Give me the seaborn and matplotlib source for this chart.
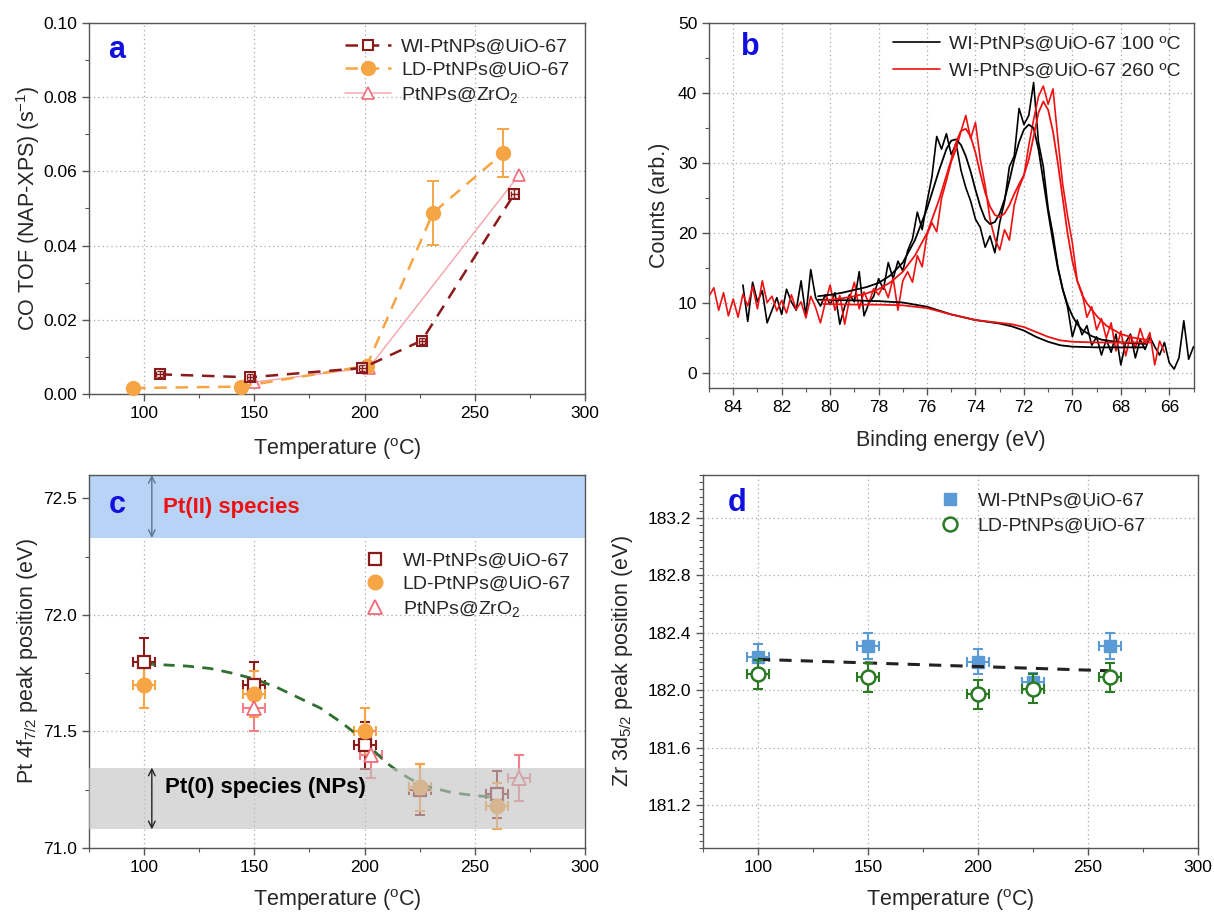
import numpy as np
import matplotlib
matplotlib.use("Agg")
import matplotlib.pyplot as plt
import seaborn as sns
from matplotlib.ticker import MultipleLocator, FormatStrFormatter

# ---------------- panel a : CO TOF ----------------
a_wi_T = [107, 148, 199, 226, 268]
a_wi_tof = [0.0053, 0.0045, 0.0070, 0.0144, 0.0540]
a_wi_err = [0.0008, 0.0008, 0.0008, 0.0008, 0.0012]
a_ld_T = [95, 144, 201, 231, 263]
a_ld_tof = [0.0016, 0.0020, 0.0076, 0.0488, 0.0650]
a_ld_err = [0.0, 0.0, 0.0, 0.0086, 0.0065]
a_zr_T = [150, 202, 270]
a_zr_tof = [0.0032, 0.0071, 0.0590]

# ---------------- panel b : Pt 4f spectra ----------------
b_black_counts = [
    12.6, 7.4, 13.0, 10.2, 11.8, 7.2, 9.0, 10.8, 8.4, 12.0,
    10.2, 9.0, 13.2, 8.2, 14.8, 10.8, 9.6, 11.2, 9.8, 11.5,
    7.0, 9.5, 11.2, 10.2, 14.5, 8.2, 10.0, 11.0, 13.5,
    12.0, 15.8, 13.5, 16.0, 14.6, 17.5, 19.2, 23.0, 20.5, 24.5,
    28.0, 33.8, 32.0, 34.2, 31.2, 32.8, 29.0, 26.5, 24.6, 22.0,
    20.8, 18.0, 19.6, 17.2, 21.5, 24.5, 29.5, 31.0, 37.8, 35.5,
    36.8, 41.5, 33.0, 29.5, 23.5, 19.8, 15.2, 12.0, 9.5, 5.2,
    7.6, 5.5, 6.8, 4.0, 5.2, 2.6, 4.8, 3.0, 5.6, 1.2,
    4.4, 5.6, 2.2, 4.8, 3.4, 5.2, 3.8, 2.6, 4.4, 1.5,
    0.6, 2.2, 7.5, 2.0, 3.8]
b_black_be = np.linspace(83.6, 65.0, len(b_black_counts))

b_red_counts = [
    11.0, 12.2, 9.0, 11.5, 8.2, 10.6, 8.0, 11.3, 9.6, 12.4,
    9.2, 13.2, 10.1, 11.0, 8.9, 10.4, 8.6, 11.2, 9.1, 10.2,
    7.9, 11.0, 9.4, 7.2, 10.1, 12.6, 9.0, 11.1, 7.0, 10.6,
    13.0, 9.2, 11.6, 10.0, 12.1, 11.2,
    12.5, 10.8, 13.6, 9.0, 13.2, 14.5, 13.0, 16.8, 15.2, 19.8,
    21.5, 20.2, 25.0, 27.5, 30.2, 32.0, 34.5, 36.8, 33.5, 35.8,
    30.5, 26.8, 22.0, 19.2, 17.6, 20.5, 19.0, 24.0, 26.5, 28.2,
    32.5, 36.2, 39.5, 41.0, 38.4, 40.6, 33.5, 27.0, 22.5, 18.6,
    13.2, 11.5, 8.0, 9.5, 6.2, 7.8, 5.0, 7.2, 3.2, 6.0,
    2.5, 5.4, 3.6, 6.4, 4.2, 5.8, 1.2, 4.6, 3.0]
b_red_be = np.linspace(85.0, 66.2, len(b_red_counts))

b_black_fit_be = [80.5, 80.0, 79.5, 79.0, 78.5, 78.0, 77.5, 77.0, 76.5, 76.0,
                  75.5, 75.2, 75.0, 74.8, 74.6, 74.4, 74.2, 74.0, 73.8, 73.6,
                  73.4, 73.2, 73.0, 72.8, 72.6, 72.4, 72.2, 72.0, 71.8, 71.6,
                  71.4, 71.2, 71.0, 70.8, 70.6, 70.4, 70.2, 70.0, 69.8, 69.6,
                  69.2, 68.8, 68.0, 67.0]
b_black_fit = [11.0, 11.2, 11.5, 11.9, 12.3, 12.9, 14.0, 15.8, 19.0, 23.5,
               29.0, 32.0, 33.2, 33.4, 32.6, 31.0, 28.8, 26.2, 23.8, 22.0,
               21.3, 21.6, 22.8, 24.8, 27.5, 30.5, 33.0, 34.8, 35.5, 35.0,
               32.0, 27.5, 23.0, 18.8, 15.0, 12.0, 9.8, 8.2, 7.0, 6.2,
               5.3, 4.8, 4.4, 4.2]
b_red_fit_be = [80.3, 80.0, 79.5, 79.0, 78.5, 78.0, 77.5, 77.0, 76.5, 76.0,
                75.5, 75.0, 74.8, 74.6, 74.4, 74.2, 74.0, 73.8, 73.6, 73.4,
                73.2, 73.0, 72.8, 72.6, 72.4, 72.2, 72.0, 71.8, 71.6, 71.4,
                71.2, 71.0, 70.8, 70.6, 70.4, 70.2, 70.0, 69.8, 69.6, 69.4,
                69.0, 68.6, 68.0, 67.5, 67.0, 66.8]
b_red_fit = [10.4, 10.5, 10.7, 11.0, 11.4, 12.0, 13.0, 14.5, 16.8, 20.0,
             24.8, 30.5, 33.0, 34.6, 34.9, 33.8, 31.5, 28.5, 25.8, 23.8,
             22.6, 22.3, 22.8, 24.0, 25.6, 27.0, 28.3, 30.5, 33.8, 37.2,
             38.8, 37.6, 34.5, 30.0, 25.0, 20.0, 16.0, 13.2, 11.2, 10.0,
             8.2, 6.8, 5.6, 5.1, 4.8, 4.7]
b_black_bg_be = [80.5, 79.0, 78.0, 77.0, 76.0, 75.0, 74.0, 73.0, 72.5, 72.0,
                 71.5, 71.0, 70.5, 70.0, 69.0, 67.0]
b_black_bg = [10.5, 10.4, 10.3, 10.1, 9.5, 8.4, 7.6, 7.1, 6.7, 6.1,
              5.2, 4.5, 4.0, 3.8, 3.7, 3.7]
b_red_bg_be = [80.3, 79.0, 78.0, 77.0, 76.0, 75.0, 74.0, 73.0, 72.5, 72.0,
               71.5, 71.0, 70.5, 70.0, 69.0, 66.8]
b_red_bg = [9.9, 9.8, 9.8, 9.7, 9.3, 8.4, 7.6, 7.2, 7.0, 6.6,
            5.9, 5.2, 4.7, 4.5, 4.4, 4.4]

# ---------------- panel c : Pt 4f7/2 position ----------------
c_wi_T = [100, 150, 200, 225, 260]
c_wi_E = [71.80, 71.70, 71.44, 71.25, 71.23]
c_wi_err = [0.10, 0.10, 0.10, 0.11, 0.10]
c_ld_T = [100, 150, 200, 225, 260]
c_ld_E = [71.70, 71.66, 71.50, 71.26, 71.18]
c_ld_err = [0.10, 0.10, 0.10, 0.10, 0.10]
c_zr_T = [150, 203, 270]
c_zr_E = [71.60, 71.40, 71.30]
c_zr_err = [0.10, 0.10, 0.10]
c_T_err = 5
c_fit_T = [100, 110, 120, 130, 140, 150, 160, 170, 180, 190, 200, 205, 210,
           215, 220, 225, 230, 240, 250, 260]
c_fit_E = [71.790, 71.785, 71.780, 71.770, 71.750, 71.725, 71.690, 71.645,
           71.600, 71.535, 71.460, 71.410, 71.365, 71.330, 71.300, 71.275,
           71.260, 71.237, 71.225, 71.217]
c_band_pt2 = (72.33, 72.60)
c_band_pt0 = (71.08, 71.345)

# ---------------- panel d : Zr 3d5/2 position ----------------
d_wi_T = [100, 150, 200, 225, 260]
d_wi_E = [182.23, 182.31, 182.20, 182.06, 182.31]
d_wi_err = [0.09, 0.09, 0.09, 0.06, 0.09]
d_ld_T = [100, 150, 200, 225, 260]
d_ld_E = [182.11, 182.09, 181.97, 182.01, 182.09]
d_ld_err = [0.10, 0.10, 0.10, 0.10, 0.10]
d_T_err = 5
d_fit_T = [100, 260]
d_fit_E = [182.215, 182.135]

# ---------------- style ----------------
sns.set_theme(style="ticks")
plt.rcParams['font.family'] = ['Liberation Sans', 'DejaVu Sans']
plt.rcParams['mathtext.fontset'] = 'custom'
plt.rcParams['mathtext.rm'] = 'Liberation Sans'
plt.rcParams['mathtext.it'] = 'Liberation Sans:italic'
plt.rcParams['mathtext.bf'] = 'Liberation Sans:bold'

WI_C = '#8b1a1a'
LD_C = '#f6a544'
ZR_C = '#f06a78'
ZR_LINE = '#f5a9b0'
D_BLUE = '#5b9bd5'
D_GREEN = '#2a7a24'

TICK_FS = 12.5
LABEL_FS = 15.5
LEG_FS = 14


def style(ax):
    ax.set_facecolor('white')
    for s in ax.spines.values():
        s.set_visible(True)
        s.set_color('#555555')
        s.set_linewidth(1.0)
    ax.tick_params(which='both', direction='out', colors='#555555',
                   labelcolor='black', top=False, right=False,
                   labelsize=TICK_FS)
    ax.tick_params(which='major', length=5, width=1)
    ax.tick_params(which='minor', length=3, width=0.8)
    ax.grid(True, which='major', linestyle=(0, (1, 2.5)),
            color='#a8a8a8', linewidth=0.9)
    ax.grid(False, which='minor')
    ax.set_axisbelow(True)


fig = plt.figure(figsize=(12.14, 9.14), dpi=100)
fig.patch.set_facecolor('white')
W, H = 1214.0, 914.0


def add_axes(l, r, t, b):
    return fig.add_axes([l / W, 1 - b / H, (r - l) / W, (b - t) / H])


axA = add_axes(89, 585, 23, 394)
axB = add_axes(709, 1193.5, 23, 388)
axC = add_axes(89, 585, 475, 848)
axD = add_axes(703, 1198, 475, 848)
for ax in (axA, axB, axC, axD):
    style(ax)

temp_label = r'Temperature ($\mathregular{^{o}}$C)'

# ================= panel a =================
ax = axA
sns.lineplot(x=a_zr_T, y=a_zr_tof, ax=ax, estimator=None, sort=False,
             color=ZR_LINE, lw=1.1, marker='^', markersize=8,
             markerfacecolor='white', markeredgecolor=ZR_C,
             markeredgewidth=1.2, label='PtNPs@ZrO$_2$', zorder=3)
sns.lineplot(x=a_ld_T, y=a_ld_tof, ax=ax, estimator=None, sort=False,
             color=LD_C, lw=1.8, linestyle=(0, (5, 3.5)), marker='o',
             markersize=10, markerfacecolor=LD_C, markeredgecolor=LD_C,
             markeredgewidth=1, label='LD-PtNPs@UiO-67', zorder=4)
ax.errorbar(a_ld_T, a_ld_tof, yerr=a_ld_err, fmt='none', ecolor=LD_C,
            elinewidth=1.4, capsize=4, capthick=1.4, zorder=3.5)
sns.lineplot(x=a_wi_T, y=a_wi_tof, ax=ax, estimator=None, sort=False,
             color=WI_C, lw=1.8, linestyle=(0, (5, 3.5)), marker='s',
             markersize=7.5, markerfacecolor='white', markeredgecolor=WI_C,
             markeredgewidth=1.5, label='WI-PtNPs@UiO-67', zorder=5)
ax.errorbar(a_wi_T, a_wi_tof, yerr=a_wi_err, xerr=1.5, fmt='none',
            ecolor=WI_C, elinewidth=1.0, capsize=2, capthick=1.0, zorder=6)
ax.set_xlim(75, 300)
ax.set_ylim(0, 0.10)
ax.xaxis.set_major_locator(MultipleLocator(50))
ax.xaxis.set_minor_locator(MultipleLocator(25))
ax.yaxis.set_major_locator(MultipleLocator(0.02))
ax.yaxis.set_minor_locator(MultipleLocator(0.01))
ax.yaxis.set_major_formatter(FormatStrFormatter('%.2f'))
ax.set_xlabel(temp_label, fontsize=LABEL_FS, labelpad=11)
ax.set_ylabel(r'CO TOF (NAP-XPS) (s$^{\mathregular{-1}}$)', fontsize=LABEL_FS)
ax.yaxis.set_label_coords(-0.095, 0.5)
h, l = ax.get_legend_handles_labels()
order = [l.index('WI-PtNPs@UiO-67'), l.index('LD-PtNPs@UiO-67'),
         l.index('PtNPs@ZrO$_2$')]
ax.legend([h[i] for i in order], [l[i] for i in order], loc='upper right',
          frameon=False, fontsize=LEG_FS, handlelength=2.4,
          handletextpad=0.5, labelspacing=0.28, borderaxespad=0.4)
for line in ax.lines:
    line.set_clip_on(False)
ax.text(0.056, 0.927, 'a', transform=ax.transAxes, color='#1010e0',
        fontsize=22, fontweight='bold', ha='center', va='center')

# ================= panel b =================
ax = axB
sns.lineplot(x=b_black_be, y=b_black_counts, ax=ax, estimator=None,
             sort=False, color='black', lw=1.2,
             label='WI-PtNPs@UiO-67 100 \u00baC')
sns.lineplot(x=b_red_be, y=b_red_counts, ax=ax, estimator=None, sort=False,
             color='#ee1111', lw=1.2, label='WI-PtNPs@UiO-67 260 \u00baC')
sns.lineplot(x=b_black_fit_be, y=b_black_fit, ax=ax, estimator=None,
             sort=False, color='black', lw=1.3)
sns.lineplot(x=b_black_bg_be, y=b_black_bg, ax=ax, estimator=None,
             sort=False, color='black', lw=1.3)
sns.lineplot(x=b_red_fit_be, y=b_red_fit, ax=ax, estimator=None,
             sort=False, color='#ee1111', lw=1.3)
sns.lineplot(x=b_red_bg_be, y=b_red_bg, ax=ax, estimator=None,
             sort=False, color='#ee1111', lw=1.3)
ax.set_xlim(85, 65)
ax.set_ylim(-2.1, 50)
ax.xaxis.set_major_locator(MultipleLocator(2))
ax.xaxis.set_minor_locator(MultipleLocator(1))
ax.yaxis.set_major_locator(MultipleLocator(10))
ax.yaxis.set_minor_locator(MultipleLocator(5))
ax.set_xlabel('Binding energy (eV)', fontsize=LABEL_FS, labelpad=11)
ax.set_ylabel('Counts (arb.)', fontsize=LABEL_FS)
ax.yaxis.set_label_coords(-0.080, 0.5)
ax.legend(loc='upper right', frameon=False, fontsize=LEG_FS,
          handlelength=2.4, handletextpad=0.5, labelspacing=0.45,
          borderaxespad=0.25)
ax.text(0.085, 0.934, 'b', transform=ax.transAxes, color='#1010e0',
        fontsize=22, fontweight='bold', ha='center', va='center')

# ================= panel c =================
ax = axC
ax.axhspan(*c_band_pt2, color='#b7d3f6', lw=0, zorder=1.5)
ax.axhspan(*c_band_pt0, color='#c2c2c2', alpha=0.62, lw=0, zorder=8)
sns.lineplot(x=c_fit_T, y=c_fit_E, ax=ax, estimator=None, sort=False,
             color='#2f6f2f', lw=2.0, linestyle=(0, (4, 3)), zorder=4)
ax.errorbar(c_wi_T, c_wi_E, yerr=c_wi_err, xerr=c_T_err, fmt='none',
            ecolor=WI_C, elinewidth=1.5, capsize=3.5, capthick=1.5, zorder=3)
ax.errorbar(c_ld_T, c_ld_E, yerr=c_ld_err, xerr=c_T_err, fmt='none',
            ecolor=LD_C, elinewidth=1.5, capsize=3.5, capthick=1.5, zorder=3)
ax.errorbar(c_zr_T, c_zr_E, yerr=c_zr_err, xerr=c_T_err, fmt='none',
            ecolor='#f27f89', elinewidth=1.5, capsize=3.5, capthick=1.5,
            zorder=3)
sns.lineplot(x=c_wi_T, y=c_wi_E, ax=ax, estimator=None, sort=False,
             linestyle='none', marker='s', markersize=8,
             markerfacecolor='white', markeredgecolor=WI_C,
             markeredgewidth=1.6, color=WI_C, label='WI-PtNPs@UiO-67',
             zorder=5)
sns.lineplot(x=c_ld_T, y=c_ld_E, ax=ax, estimator=None, sort=False,
             linestyle='none', marker='o', markersize=10.5,
             markerfacecolor=LD_C, markeredgecolor=LD_C, markeredgewidth=1,
             color=LD_C, label='LD-PtNPs@UiO-67', zorder=6)
sns.lineplot(x=c_zr_T, y=c_zr_E, ax=ax, estimator=None, sort=False,
             linestyle='none', marker='^', markersize=9.5,
             markerfacecolor='white', markeredgecolor=ZR_C,
             markeredgewidth=1.3, color=ZR_C, label='PtNPs@ZrO$_2$',
             zorder=6)
ax.set_xlim(75, 300)
ax.set_ylim(71.0, 72.6)
ax.xaxis.set_major_locator(MultipleLocator(50))
ax.xaxis.set_minor_locator(MultipleLocator(25))
ax.yaxis.set_major_locator(MultipleLocator(0.5))
ax.yaxis.set_minor_locator(MultipleLocator(0.25))
ax.yaxis.set_major_formatter(FormatStrFormatter('%.1f'))
ax.set_xlabel(temp_label, fontsize=LABEL_FS, labelpad=9)
ax.set_ylabel(r'Pt 4f$_{\mathregular{7/2}}$ peak position (eV)',
              fontsize=LABEL_FS)
ax.yaxis.set_label_coords(-0.099, 0.5)
ax.legend(loc='upper right', bbox_to_anchor=(0.995, 0.825), frameon=False,
          fontsize=LEG_FS, handlelength=1.0, handletextpad=0.9,
          labelspacing=0.3, borderaxespad=0.2)
ax.annotate('', xy=(103.5, c_band_pt2[1]), xytext=(103.5, c_band_pt2[0]),
            arrowprops=dict(arrowstyle='<->', color='#5a7590', lw=1.0,
                            shrinkA=0, shrinkB=0), zorder=9)
ax.annotate('', xy=(103.5, c_band_pt0[1]), xytext=(103.5, c_band_pt0[0]),
            arrowprops=dict(arrowstyle='<->', color='#222222', lw=1.0,
                            shrinkA=0, shrinkB=0), zorder=9)
ax.text(0.149, 0.914, 'Pt(II) species', transform=ax.transAxes,
        color='#ee1111', fontsize=16, fontweight='bold', ha='left',
        va='center', zorder=10)
ax.text(0.153, 0.161, 'Pt(0) species (NPs)', transform=ax.transAxes,
        color='black', fontsize=16, fontweight='bold', ha='left',
        va='center', zorder=10)
ax.text(0.056, 0.92, 'c', transform=ax.transAxes, color='#1010e0',
        fontsize=22, fontweight='bold', ha='center', va='center', zorder=10)

# ================= panel d =================
ax = axD
sns.lineplot(x=d_fit_T, y=d_fit_E, ax=ax, estimator=None, sort=False,
             color='#222222', lw=2.2, linestyle=(0, (4, 3)), zorder=4)
ax.errorbar(d_wi_T, d_wi_E, yerr=d_wi_err, xerr=d_T_err, fmt='none',
            ecolor=D_BLUE, elinewidth=1.5, capsize=3.5, capthick=1.5,
            zorder=3)
ax.errorbar(d_ld_T, d_ld_E, yerr=d_ld_err, xerr=d_T_err, fmt='none',
            ecolor=D_GREEN, elinewidth=1.5, capsize=3.5, capthick=1.5,
            zorder=5)
sns.lineplot(x=d_wi_T, y=d_wi_E, ax=ax, estimator=None, sort=False,
             linestyle='none', marker='s', markersize=9,
             markerfacecolor=D_BLUE, markeredgecolor=D_BLUE,
             markeredgewidth=1, color=D_BLUE, label='WI-PtNPs@UiO-67',
             zorder=3.5)
sns.lineplot(x=d_ld_T, y=d_ld_E, ax=ax, estimator=None, sort=False,
             linestyle='none', marker='o', markersize=10,
             markerfacecolor='white', markeredgecolor=D_GREEN,
             markeredgewidth=1.8, color=D_GREEN, label='LD-PtNPs@UiO-67',
             zorder=6)
ax.set_xlim(75, 300)
ax.set_ylim(180.9, 183.5)
ax.xaxis.set_major_locator(MultipleLocator(50))
ax.xaxis.set_minor_locator(MultipleLocator(25))
ax.set_yticks([181.2, 181.6, 182.0, 182.4, 182.8, 183.2])
ax.yaxis.set_minor_locator(MultipleLocator(0.05))
ax.yaxis.set_major_formatter(FormatStrFormatter('%.1f'))
ax.set_xlabel(temp_label, fontsize=LABEL_FS, labelpad=9)
ax.set_ylabel(r'Zr 3d$_{\mathregular{5/2}}$ peak position (eV)',
              fontsize=LABEL_FS)
ax.yaxis.set_label_coords(-0.137, 0.5)
ax.legend(loc='upper right', bbox_to_anchor=(0.93, 1.0), frameon=False,
          fontsize=LEG_FS, handlelength=1.0, handletextpad=0.9,
          labelspacing=0.35, borderaxespad=0.5)
ax.text(0.069, 0.925, 'd', transform=ax.transAxes, color='#1010e0',
        fontsize=22, fontweight='bold', ha='center', va='center')

fig.savefig('out.png', dpi=100, facecolor='white')
